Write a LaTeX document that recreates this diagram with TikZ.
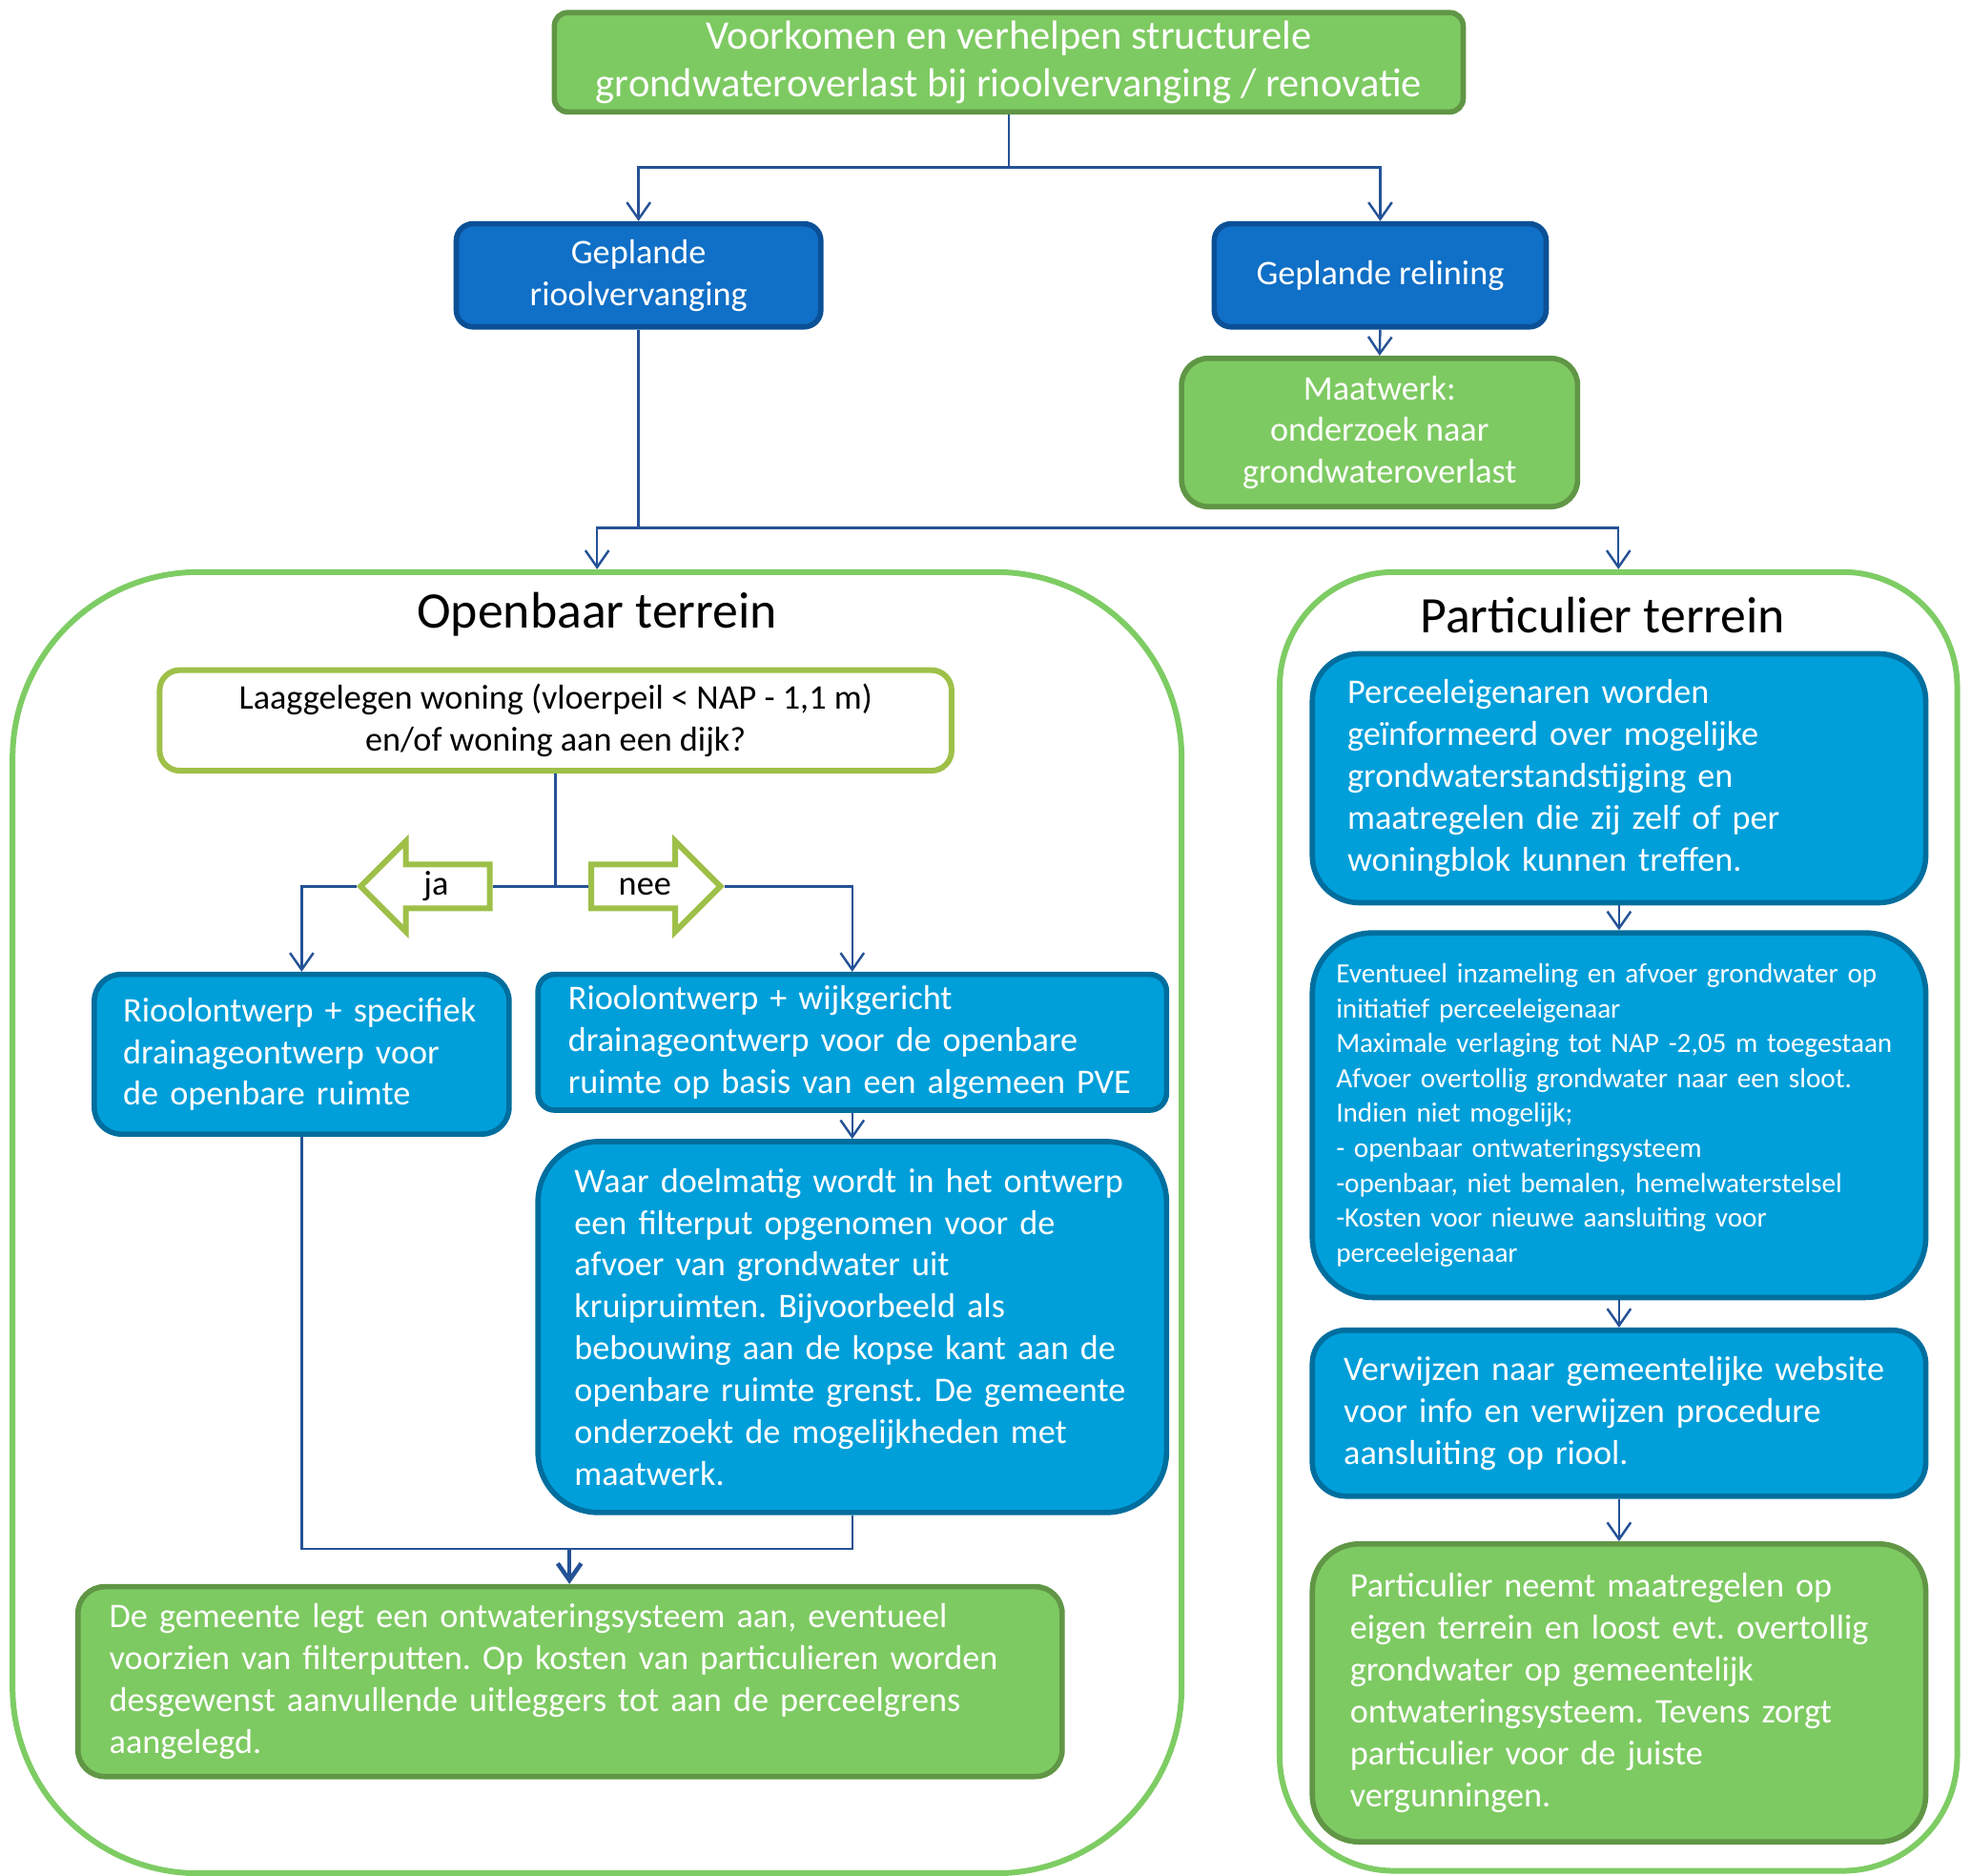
\documentclass[tikz,border=0pt]{standalone}
\usepackage{fontspec}
\setmainfont{Carlito}
\usepackage{tikz}
\usetikzlibrary{shapes.arrows, arrows.meta, positioning}
\definecolor{boxgreen}{RGB}{126,202,98}
\definecolor{boxgreenline}{RGB}{96,150,70}
\definecolor{darkblue}{RGB}{16,111,198}
\definecolor{darkblueline}{RGB}{11,80,150}
\definecolor{lightblue}{RGB}{0,159,218}
\definecolor{lightblueline}{RGB}{0,110,158}
\definecolor{askgreen}{RGB}{158,192,72}
\definecolor{framegreen}{RGB}{126,204,100}
\definecolor{linkblue}{RGB}{37,82,150}
\newdimen\dpx \dpx=0.0131824cm
\frenchspacing
\hyphenpenalty=10000

\begin{document}
\begin{tikzpicture}[
    x=0.0131824cm, y=-0.0131824cm,
    base/.style={
        rectangle,
        rounded corners=5pt,
        line width=1.6pt,
        text=white,
        font=\fontsize{10.3}{12.5}\selectfont,
        inner ysep=2pt
    },
    groen/.style={base, fill=boxgreen, draw=boxgreenline, align=center},
    donker/.style={base, fill=darkblue, draw=darkblueline, align=center},
    blauw/.style={base, fill=lightblue, draw=lightblueline, align=left},
    vraag/.style={
        rectangle,
        rounded corners=6pt,
        line width=1.7pt,
        draw=askgreen,
        fill=white,
        align=center,
        font=\fontsize{10.3}{12.4}\selectfont
    },
    keuze/.style={
        single arrow,
        draw=askgreen,
        fill=white,
        line width=1.7pt,
        single arrow head extend=6.9pt,
        minimum height=38.5pt,
        text height=7pt,
        text depth=2pt,
        inner ysep=1.2pt,
        inner xsep=1pt,
        font=\fontsize{10.3}{12.5}\selectfont
    },
    kader/.style={rectangle, draw=framegreen, line width=1.7pt, fill=white},
    kop/.style={font=\fontsize{15.3}{18}\selectfont},
    lijn/.style={draw=linkblue, line width=0.7pt},
    pijl/.style={lijn, -{Straight Barb[length=5pt, width=7pt]}},
    dikpijl/.style={draw=linkblue, line width=1.3pt, -{Straight Barb[length=5pt, width=7pt]}}
]
    \useasboundingbox (0,0) rectangle (1568,1492);

    % Row 1: Aanleiding en type ingreep
    \node[groen, font=\fontsize{12.1}{14.3}\selectfont, minimum width=723\dpx, minimum height=79\dpx, rounded corners=4pt] (tit) at (802.5,49.5) {Voorkomen en verhelpen structurele\\grondwateroverlast bij rioolvervanging / renovatie};
    \node[donker, minimum width=290\dpx, minimum height=82\dpx] (rio) at (508,219) {Geplande\\rioolvervanging};
    \node[donker, minimum width=264\dpx, minimum height=82\dpx] (rel) at (1098,219) {Geplande relining};
    \node[groen, minimum width=315\dpx, minimum height=118\dpx, rounded corners=8pt] (maat) at (1097.5,344) {Maatwerk:\\onderzoek naar\\grondwateroverlast};

    % Kaders: openbaar en particulier terrein
    \node[kader, rounded corners=1.95cm, minimum width=930\dpx, minimum height=1035\dpx] (open) at (475,972.5) {};
    \node[kader, rounded corners=1.2cm, minimum width=539\dpx, minimum height=1033\dpx] (part) at (1287.5,971.5) {};
    \node[kop] (kop1) at (475,489) {Openbaar terrein};
    \node[kop] (kop2) at (1275,489) {Particulier terrein};

    % Openbaar terrein (keuze ja / nee)
    \node[vraag, minimum width=630\dpx, minimum height=80\dpx] (vrg) at (442,573) {Laaggelegen woning (vloerpeil < NAP - 1,1 m)\\en/of woning aan een dijk?};
    \node[keuze, shape border rotate=180] (ja) at (347,705) {ja};
    \node[keuze] (nee) at (513,705) {nee};
    \node[blauw, text width=284\dpx, inner xsep=23\dpx, minimum height=127\dpx, rounded corners=8pt] (ro1) at (240,838.5) {Rioolontwerp + specifiek\\drainageontwerp voor\\de openbare ruimte};
    \node[blauw, text width=452\dpx, inner xsep=24\dpx, minimum height=108\dpx] (ro2) at (678,829) {Rioolontwerp + wijkgericht\\drainageontwerp voor de openbare\\ruimte op basis van een algemeen PVE};
    \node[blauw, text width=442\dpx, inner xsep=29\dpx, minimum height=295\dpx, rounded corners=18pt] (maw) at (678,1055.5) {Waar doelmatig wordt in het ontwerp\\een filterput opgenomen voor de\\afvoer van grondwater uit\\kruipruimten. Bijvoorbeeld als\\bebouwing aan de kopse kant aan de\\openbare ruimte grenst. De gemeente\\onderzoekt de mogelijkheden met\\maatwerk.};
    \node[groen, align=left, text width=733\dpx, inner xsep=25\dpx, minimum height=151\dpx, rounded corners=8pt] (gem) at (453.5,1337.5) {De gemeente legt een ontwateringsysteem aan, eventueel\\voorzien van filterputten. Op kosten van particulieren worden\\desgewenst aanvullende uitleggers tot aan de perceelgrens\\aangelegd.};

    % Particulier terrein
    \node[blauw, text width=432\dpx, inner xsep=28\dpx, minimum height=198\dpx, rounded corners=14pt] (pe1) at (1288,619) {Perceeleigenaren worden\\geïnformeerd over mogelijke\\grondwaterstandstijging en\\maatregelen die zij zelf of per\\woningblok kunnen treffen.};
    \node[blauw, font=\fontsize{8.3}{10.4}\selectfont, text width=450\dpx, inner xsep=19\dpx, minimum height=290\dpx, rounded corners=18pt] (pe2) at (1288,887) {Eventueel inzameling en afvoer grondwater op\\initiatief perceeleigenaar\\Maximale verlaging tot NAP -2,05 m toegestaan\\Afvoer overtollig grondwater naar een sloot.\\Indien niet mogelijk;\\- openbaar ontwateringsysteem\\-openbaar, niet bemalen, hemelwaterstelsel\\-Kosten voor nieuwe aansluiting voor\\perceeleigenaar};
    \node[blauw, text width=438\dpx, inner xsep=25\dpx, minimum height=132\dpx, rounded corners=10pt] (pe3) at (1288,1124) {Verwijzen naar gemeentelijke website\\voor info en verwijzen procedure\\aansluiting op riool.};
    \node[groen, align=left, text width=428\dpx, inner xsep=30\dpx, minimum height=237\dpx, rounded corners=14pt] (pe4) at (1288,1346.5) {Particulier neemt maatregelen op\\eigen terrein en loost evt. overtollig\\grondwater op gemeentelijk\\ontwateringsysteem. Tevens zorgt\\particulier voor de juiste\\vergunningen.};

    % Splitsingspunten
    \coordinate (sp1) at (802.5,133);
    \coordinate (sp2) at (508,420);
    \coordinate (sp3) at (442,705);
    \coordinate (sp4) at (453,1232);

    % Verbindingen
    \draw[lijn] (tit.south) -- (sp1);
    \draw[pijl] (sp1) -| (rio.north);
    \draw[pijl] (sp1) -| (rel.north);
    \draw[pijl] (rel.south) -- (maat.north);
    \draw[lijn] (rio.south) -- (sp2);
    \draw[pijl] (sp2) -| (open.north);
    \draw[pijl] (sp2) -| (part.north);
    \draw[lijn] (vrg.south) -- (sp3);
    \draw[lijn] (ja.tail) -- (nee.tail);
    \draw[pijl] (ja.tip) -| (ro1.north);
    \draw[pijl] (nee.tip) -| (ro2.north);
    \draw[pijl] (ro2) -- (maw);
    \draw[lijn] (ro1.south) |- (sp4) -| (maw.south);
    \draw[dikpijl] (sp4) -- (sp4 |- gem.north);
    \draw[pijl] (pe1) -- (pe2);
    \draw[pijl] (pe2) -- (pe3);
    \draw[pijl] (pe3) -- (pe4);
\end{tikzpicture}
\end{document}
